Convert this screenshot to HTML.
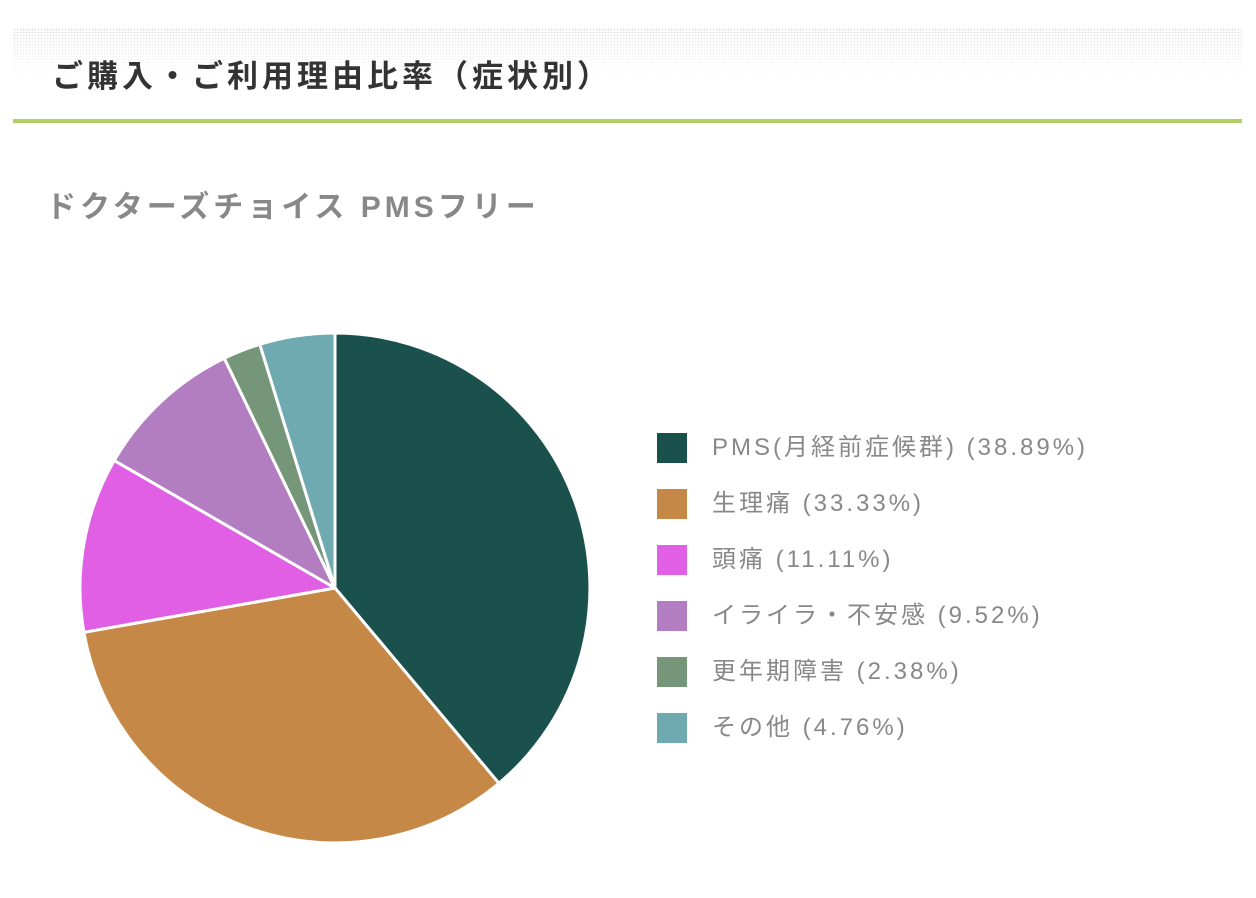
<!DOCTYPE html>
<html><head><meta charset="utf-8"><style>
body{margin:0;width:1256px;height:898px;background:#fff;overflow:hidden;font-family:"Liberation Sans","Noto Sans CJK JP",sans-serif;position:relative}
.hd{position:absolute;left:13px;top:28px;width:1229px;height:50px;background-image:radial-gradient(#e4e4e4 0.8px,transparent 1px);background-size:3px 3px;-webkit-mask-image:linear-gradient(#000,rgba(0,0,0,0));}
.t1{position:absolute;left:52px;top:55px;font-size:31px;letter-spacing:4px;font-weight:bold;color:#333;line-height:44px}
.ln{position:absolute;left:13px;top:119px;width:1229px;height:4px;background:#afd162}
.t2{position:absolute;left:46px;top:186px;font-size:30px;letter-spacing:4px;font-weight:bold;color:#888;line-height:44px}
.lg{position:absolute;left:657px;font-size:24px;letter-spacing:3px;color:#888;line-height:30px}
.lg i{display:inline-block;width:30px;height:30px;vertical-align:top;margin-right:25px}
</style></head><body>
<div class="hd"></div>
<div class="t1">ご購入・ご利用理由比率（症状別）</div>
<div class="ln"></div>
<div class="t2">ドクターズチョイス PMSフリー</div>
<svg width="1256" height="898" style="position:absolute;left:0;top:0">
<g stroke="#fff" stroke-width="3" stroke-linejoin="round">
<path d="M335,588 L335,333 A255,255 0 0 1 498.9,783.3 Z" fill="#1b514d"/>
<path d="M335,588 L498.9,783.3 A255,255 0 0 1 83.9,632.3 Z" fill="#c68847"/>
<path d="M335,588 L83.9,632.3 A255,255 0 0 1 114.2,460.5 Z" fill="#e15fe5"/>
<path d="M335,588 L114.2,460.5 A255,255 0 0 1 224.3,358.3 Z" fill="#b27ec1"/>
<path d="M335,588 L224.3,358.3 A255,255 0 0 1 259.8,344.3 Z" fill="#76967a"/>
<path d="M335,588 L259.8,344.3 A255,255 0 0 1 335,333 Z" fill="#6eaab0"/>
</g></svg>
<div class="lg" style="top:433px"><i style="background:#1b514d"></i>PMS(月経前症候群) (38.89%)</div>
<div class="lg" style="top:489px"><i style="background:#c68847"></i>生理痛 (33.33%)</div>
<div class="lg" style="top:545px"><i style="background:#e15fe5"></i>頭痛 (11.11%)</div>
<div class="lg" style="top:601px"><i style="background:#b27ec1"></i>イライラ・不安感 (9.52%)</div>
<div class="lg" style="top:657px"><i style="background:#76967a"></i>更年期障害 (2.38%)</div>
<div class="lg" style="top:713px"><i style="background:#6eaab0"></i>その他 (4.76%)</div>
</body></html>
